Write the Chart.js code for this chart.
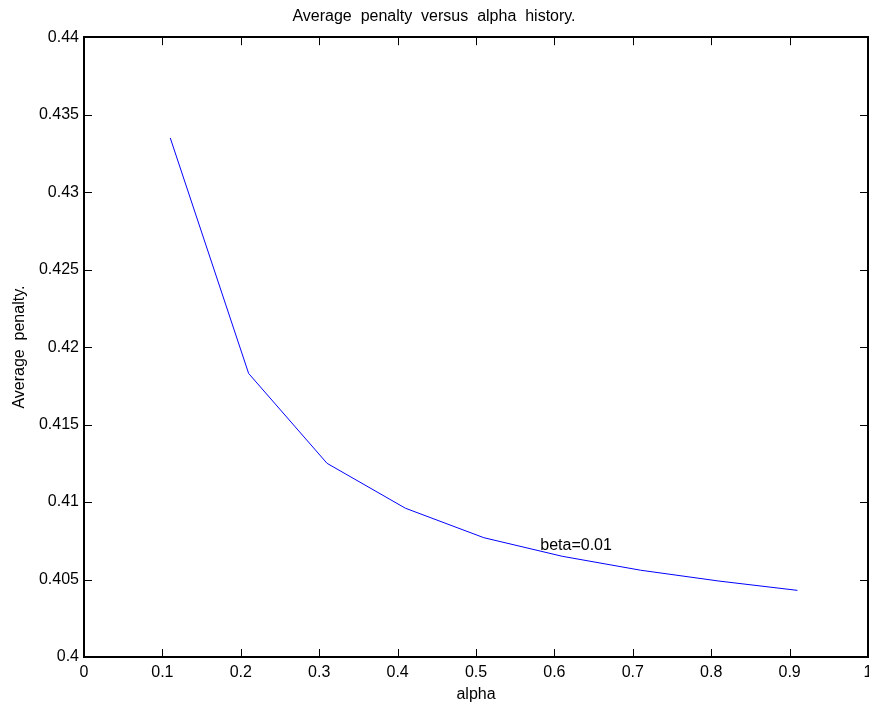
<!DOCTYPE html>
<html>
<head>
<meta charset="utf-8">
<script src="https://cdn.jsdelivr.net/npm/chart.js@4"></script>
<style>
    html, body { margin: 0; padding: 0; background: #fff; }
    #wrap { width: 869px; height: 706px; }
</style>
</head>
<body>
<div id="wrap"><canvas id="chart" width="869" height="706"></canvas></div>
<script>
// --- Data ---
const alphaValues = [0.11, 0.21, 0.31, 0.41, 0.51, 0.61, 0.71, 0.81, 0.91];
const penaltyValues = [0.4335, 0.4183, 0.4125, 0.4096, 0.4077, 0.4065, 0.4056, 0.4049, 0.4043];
const xTickValues = [0, 0.1, 0.2, 0.3, 0.4, 0.5, 0.6, 0.7, 0.8, 0.9, 1];
const yTickValues = [0.4, 0.405, 0.41, 0.415, 0.42, 0.425, 0.43, 0.435, 0.44];
const noteText = 'beta=0.01';
const noteAt = { x: 0.582, y: 0.4072 };

const FONT = 'Arial, "Liberation Sans", Helvetica, sans-serif';

// matlab style box with inward ticks on all four sides
const boxPlugin = {
    id: 'matlabBox',
    afterDraw(chart) {
        const { ctx, chartArea: a, scales } = chart;
        ctx.save();
        ctx.strokeStyle = '#000';
        ctx.lineWidth = 1;
        const tick = 8;
        ctx.beginPath();
        xTickValues.forEach(v => {
            const px = Math.round(scales.x.getPixelForValue(v)) + 0.5;
            ctx.moveTo(px, a.bottom); ctx.lineTo(px, a.bottom - tick);
            ctx.moveTo(px, a.top); ctx.lineTo(px, a.top + tick);
        });
        yTickValues.forEach(v => {
            const py = Math.round(scales.y.getPixelForValue(v)) + 0.5;
            ctx.moveTo(a.left, py); ctx.lineTo(a.left + tick, py);
            ctx.moveTo(a.right, py); ctx.lineTo(a.right - tick, py);
        });
        ctx.stroke();
        ctx.lineWidth = 2;
        ctx.strokeRect(Math.round(a.left), Math.round(a.top), Math.round(a.right - a.left), Math.round(a.bottom - a.top));

        // text note placed in data coordinates
        ctx.fillStyle = '#000';
        ctx.font = '16px ' + FONT;
        ctx.textAlign = 'left';
        ctx.textBaseline = 'middle';
        ctx.fillText(noteText, scales.x.getPixelForValue(noteAt.x), scales.y.getPixelForValue(noteAt.y));
        ctx.restore();
    }
};

const ctx = document.getElementById('chart').getContext('2d');
new Chart(ctx, {
    type: 'line',
    data: {
        datasets: [{
            data: alphaValues.map((x, i) => ({ x: x, y: penaltyValues[i] })),
            borderColor: '#0000ff',
            borderWidth: 1,
            pointRadius: 0,
            tension: 0,
            fill: false
        }]
    },
    options: {
        responsive: false,
        animation: false,
        devicePixelRatio: 1,
        layout: { padding: { left: 0, right: 1, top: 0, bottom: 0 } },
        plugins: {
            legend: { display: false },
            tooltip: { enabled: false },
            title: {
                display: true,
                text: 'Average  penalty  versus  alpha  history.',
                color: '#000',
                font: { family: FONT, size: 16, weight: 'normal' },
                padding: { top: 7, bottom: 11 }
            }
        },
        scales: {
            x: {
                type: 'linear',
                min: 0,
                max: 1,
                afterBuildTicks: s => { s.ticks = xTickValues.map(v => ({ value: v })); },
                afterFit: s => { s.height = 49; s.paddingRight = 0; s.paddingLeft = 0; },
                grid: { display: false, drawTicks: false },
                border: { display: false },
                ticks: {
                    color: '#000',
                    padding: 6,
                    maxRotation: 0,
                    autoSkip: false,
                    font: { family: FONT, size: 16 },
                    callback: v => String(+Number(v).toFixed(3))
                },
                title: {
                    display: true,
                    text: 'alpha',
                    color: '#000',
                    font: { family: FONT, size: 16 },
                    padding: { top: 2, bottom: 2 }
                }
            },
            y: {
                type: 'linear',
                min: 0.4,
                max: 0.44,
                afterBuildTicks: s => { s.ticks = yTickValues.map(v => ({ value: v })); },
                afterFit: s => { s.width = 84; s.paddingTop = 0; s.paddingBottom = 0; },
                grid: { display: false, drawTicks: false },
                border: { display: false },
                ticks: {
                    color: '#000',
                    padding: 5,
                    autoSkip: false,
                    font: { family: FONT, size: 16 },
                    callback: v => String(+Number(v).toFixed(4))
                },
                title: {
                    display: true,
                    text: 'Average  penalty.',
                    color: '#000',
                    font: { family: FONT, size: 16 },
                    padding: { top: 10, bottom: 0 }
                }
            }
        }
    },
    plugins: [boxPlugin]
});
</script>
</body>
</html>
